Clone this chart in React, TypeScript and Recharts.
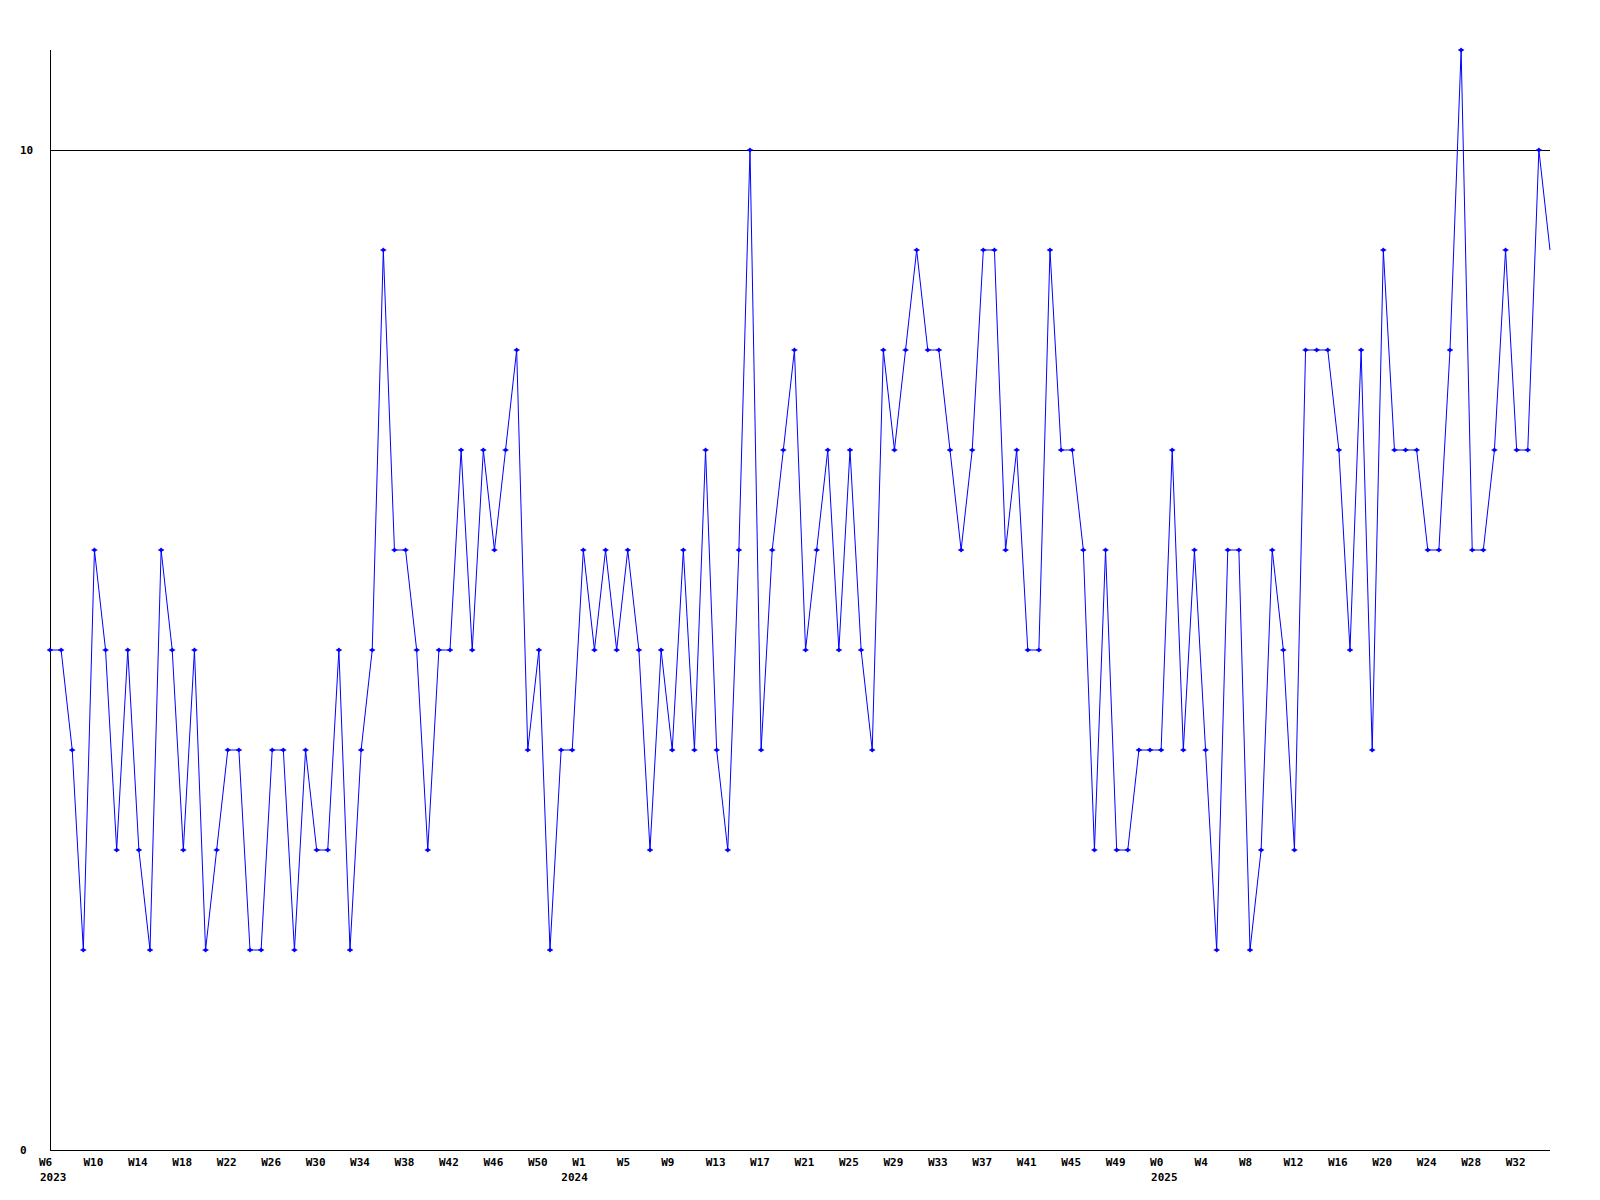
import React from "react";
import { LineChart, Line, XAxis, YAxis, ReferenceLine } from "recharts";

// weekly counts, one array per year
const years = [2023, 2024, 2025];
const firstWeek = [6, 1, 0];
const values2023 = [
  5, 5, 4, 2, 6, 5, 3, 5, 3, 2, 6, 5, 3, 5, 2, 3, 4, 4, 2, 2, 4, 4, 2, 4,
  3, 3, 5, 2, 4, 5, 9, 6, 6, 5, 3, 5, 5, 7, 5, 7, 6, 7, 8, 4, 5, 2, 4, 4,
];
const values2024 = [
  6, 5, 6, 5, 6, 5, 3, 5, 4, 6, 4, 7, 4, 3, 6, 10, 4, 6, 7, 8, 5, 6, 7, 5, 7, 5,
  4, 8, 7, 8, 9, 8, 8, 7, 6, 7, 9, 9, 6, 7, 5, 5, 9, 7, 7, 6, 3, 6, 3, 3, 4, 4,
];
const values2025 = [
  4, 7, 4, 6, 4, 2, 6, 6, 2, 3, 6, 5, 3, 8, 8, 8, 7, 5,
  8, 4, 9, 7, 7, 7, 6, 6, 8, 11, 6, 6, 7, 9, 7, 7, 10, 9,
];
const yTicks = [0, 10];
const gridValue = 10;
// horizontal shift of the year label under the first tick of each year
const yearLabelShift = [-10, -22, -10];

const seriesByYear = [values2023, values2024, values2025];
const data: { key: string; week: string; year: number; value: number }[] = [];
seriesByYear.forEach((vals, y) => {
  vals.forEach((v, i) => {
    const week = `W${firstWeek[y] + i}`;
    data.push({ key: `${years[y]}-${week}`, week, year: years[y], value: v });
  });
});

const yearStart = new Map<string, number>();
years.forEach((yr, y) => {
  const idx = data.findIndex((d) => d.year === yr);
  yearStart.set(data[idx].key, y);
});

const FONT = "'DejaVu Sans Mono', monospace";

const WeekTick = (props: any) => {
  const { x, y, payload } = props;
  const [yr, wk] = String(payload.value).split("-");
  const ys = yearStart.get(payload.value);
  return (
    <g>
      <text x={x - 11} y={y + 8} fontFamily={FONT} fontWeight="bold" fontSize={11} fill="#000">
        {wk}
      </text>
      {ys !== undefined && (
        <text x={x + yearLabelShift[ys]} y={y + 23} fontFamily={FONT} fontWeight="bold" fontSize={11} fill="#000">
          {yr}
        </text>
      )}
    </g>
  );
};

const ValueTick = (props: any) => {
  const { y, payload } = props;
  return (
    <text x={20} y={y + 4} fontFamily={FONT} fontWeight="bold" fontSize={11} fill="#000">
      {payload.value}
    </text>
  );
};

const Marker = (props: any) => {
  const { cx, cy, index } = props;
  if (index === data.length - 1 || cx == null) return <g key={`m${index}`} />;
  return (
    <g key={`m${index}`}>
      <path d={`M${cx - 2.5},${cy}L${cx},${cy - 2.5}L${cx + 2.5},${cy}L${cx},${cy + 2.5}Z`} fill="#0000ff" />
      <line x1={cx - 3} x2={cx + 3} y1={cy} y2={cy} stroke="#0000ff" strokeWidth={1} />
    </g>
  );
};

export default function App() {
  return (
    <div style={{ position: "absolute", left: 0, top: 0, background: "#fff" }}>
      <LineChart width={1600} height={1200} data={data} margin={{ top: 50, right: 50, bottom: 0, left: 20 }}>
        <XAxis
          dataKey="key"
          interval={3}
          height={50}
          tickLine={false}
          axisLine={{ stroke: "#000", shapeRendering: "crispEdges" }}
          tick={<WeekTick />}
        />
        <YAxis
          domain={[0, 11]}
          ticks={yTicks}
          width={30}
          tickLine={false}
          axisLine={{ stroke: "#000", shapeRendering: "crispEdges" }}
          tick={<ValueTick />}
        />
        <ReferenceLine y={gridValue} stroke="#000" shapeRendering="crispEdges" />
        <Line
          type="linear"
          dataKey="value"
          stroke="#0000ff"
          strokeWidth={1}
          dot={Marker}
          activeDot={false}
          isAnimationActive={false}
        />
      </LineChart>
    </div>
  );
}
